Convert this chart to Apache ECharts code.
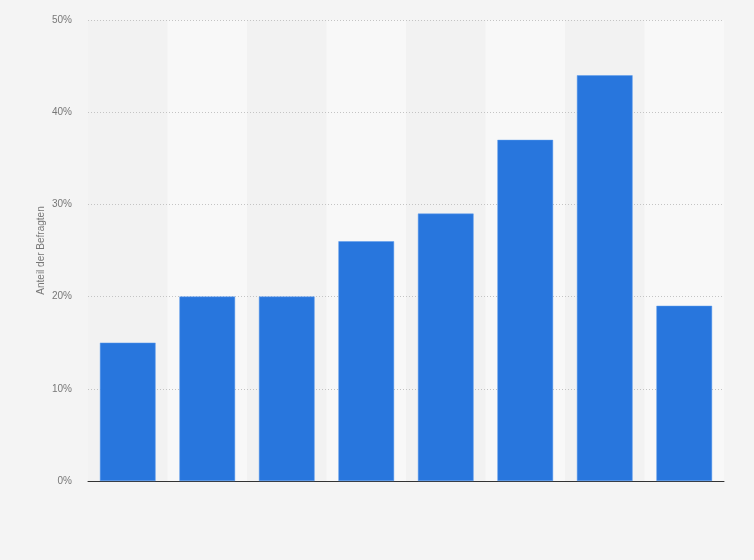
<!DOCTYPE html>
<html><head><meta charset="utf-8">
<script src="https://cdn.jsdelivr.net/npm/echarts@6/dist/echarts.min.js"></script>
<style>html,body{margin:0;padding:0;background:#f4f4f4}#c{width:754px;height:560px}</style>
</head><body><div id="c"></div>
<script>
var categories = ['1','2','3','4','5','6','7','8'];
var values = [15, 20, 20, 26, 29, 37, 44, 19];
var yTicks = [0, 10, 20, 30, 40, 50];
var yAxisName = 'Anteil der Befragten';

var chart = echarts.init(document.getElementById('c'));
chart.setOption({
  backgroundColor: '#f4f4f4',
  animation: false,
  grid: {left: 88, right: 30, top: 20, bottom: 79},
  xAxis: {
    type: 'category', data: categories, z: 0,
    axisLine: {lineStyle: {color: '#333', width: 1}},
    axisTick: {show: false},
    axisLabel: {show: false},
    splitArea: {show: true, areaStyle: {color: ['#f2f2f2', '#f8f8f8']}}
  },
  yAxis: {
    type: 'value', min: yTicks[0], max: yTicks[yTicks.length-1], interval: 10, z: 1,
    name: yAxisName, nameLocation: 'middle', nameGap: 42, nameRotate: 90, nameMoveOverlap: false,
    nameTextStyle: {color: '#777', fontSize: 10, fontFamily: 'Arial, Liberation Sans, sans-serif'},
    axisLine: {show: false}, axisTick: {show: false},
    axisLabel: {formatter: '{value}%', color: '#777', fontSize: 10, margin: 16, fontFamily: 'Arial, Liberation Sans, sans-serif'},
    splitLine: {showMinLine: false, lineStyle: {color: '#c4c4c4', type: [1, 2], width: 1}}
  },
  series: [{
    type: 'bar', data: values, barWidth: '70%', z: 3,
    itemStyle: {color: '#2876dd', borderColor: '#5b9aec', borderWidth: 0.5}
  }]
});
</script></body></html>
